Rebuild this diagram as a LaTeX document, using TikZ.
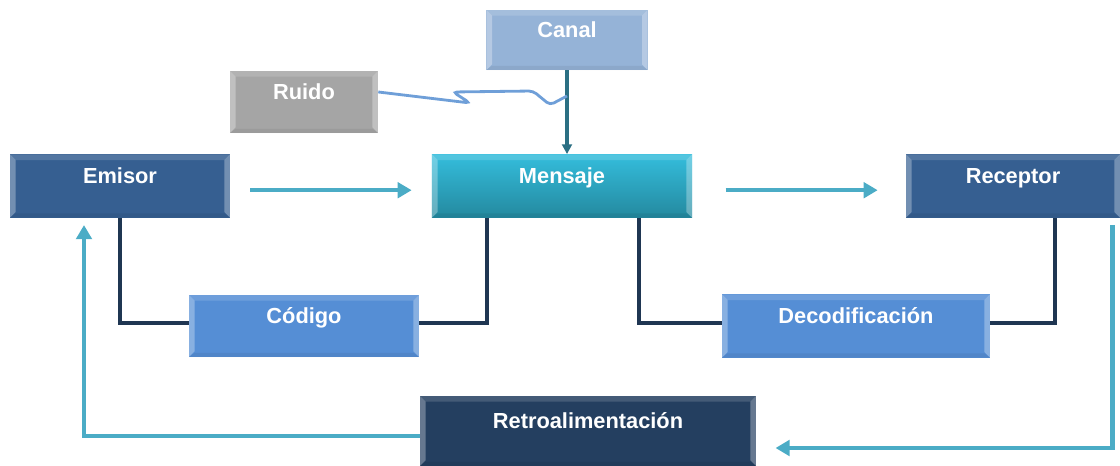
\documentclass[tikz,border=0pt]{standalone}
\usepackage{fontspec}
\setmainfont{Liberation Sans}
\usepackage{xcolor}
\usepackage{tikz}
\usetikzlibrary{arrows.meta, positioning, calc}

\definecolor{emisorblue}{HTML}{365F91}
\definecolor{retronavy}{HTML}{243F60}
\definecolor{codeblue}{HTML}{558ED5}
\definecolor{canalblue}{HTML}{95B3D7}
\definecolor{ruidogray}{HTML}{A5A5A5}
\definecolor{msgtop}{HTML}{34BDDC}
\definecolor{msgbottom}{HTML}{24899F}
\definecolor{flowteal}{HTML}{4BACC6}
\definecolor{linknavy}{HTML}{1F3652}
\definecolor{canalteal}{HTML}{2B6F83}
\definecolor{noiseblue}{HTML}{6F9FD8}

\begin{document}
\begin{tikzpicture}[x=0.025cm, y=0.025cm, >={Triangle[length=10pt,width=11pt]}]
        \tikzset{
            bevel/.style={path picture={
                \fill[white, opacity=0.3] (path picture bounding box.south west) -- (path picture bounding box.north west) -- ([shift={(4pt,-4pt)}]path picture bounding box.north west) -- ([shift={(4pt,4pt)}]path picture bounding box.south west) -- cycle;
                \fill[white, opacity=0.3] (path picture bounding box.south east) -- (path picture bounding box.north east) -- ([shift={(-4pt,-4pt)}]path picture bounding box.north east) -- ([shift={(-4pt,4pt)}]path picture bounding box.south east) -- cycle;
                \fill[white, opacity=0.15] (path picture bounding box.north west) -- (path picture bounding box.north east) -- ([shift={(-4pt,-4pt)}]path picture bounding box.north east) -- ([shift={(4pt,-4pt)}]path picture bounding box.north west) -- cycle;
                \fill[black, opacity=0.06] (path picture bounding box.south west) -- (path picture bounding box.south east) -- ([shift={(-4pt,3pt)}]path picture bounding box.south east) -- ([shift={(4pt,3pt)}]path picture bounding box.south west) -- cycle;
            }},
            boxnode/.style={rectangle, minimum height=1.58cm, inner sep=0pt, text=white, font=\fontsize{15.5}{18}\selectfont\bfseries, text height=12pt, text depth=16pt, bevel},
            flow/.style={draw=flowteal, line width=3.2pt},
            link/.style={draw=linknavy, line width=2.4pt},
            canallink/.style={draw=canalteal, line width=2.2pt},
            noise/.style={draw=noiseblue, line width=2pt, rounded corners=3pt}
        }
        \useasboundingbox (0,0) rectangle (1120,466);

        \node [boxnode, fill=canalblue, minimum width=4.03cm, minimum height=1.5cm] (canal) at (567,426) {Canal};
        \node [boxnode, fill=ruidogray, minimum width=3.7cm, minimum height=1.55cm] (ruido) at (304,364) {Ruido};
        \node [boxnode, fill=emisorblue, minimum width=5.5cm] (emisor) at (120,280) {Emisor};
        \node [boxnode, top color=msgtop, bottom color=msgbottom, minimum width=6.5cm] (mensaje) at (562,280) {Mensaje};
        \node [boxnode, fill=emisorblue, minimum width=5.35cm] (receptor) at (1013,280) {Receptor};
        \node [boxnode, fill=codeblue, minimum width=5.75cm, minimum height=1.55cm] (codigo) at (304,140) {Código};
        \node [boxnode, fill=codeblue, minimum width=6.7cm] (decod) at (856,140) {Decodificación};
        \node [boxnode, fill=retronavy, minimum width=8.4cm, minimum height=1.75cm] (retro) at (588,35) {Retroalimentación};

        \coordinate (noisejoin) at (canal.south |- 0,370);

        \draw [canallink, -{Triangle[length=7pt,width=7pt]}] (canal.south) -- (canal.south |- mensaje.north);
        \draw [noise] ([yshift=0.25cm]ruido.east) -- (470,363) -- (453,374) -- (533,375) -- (550,361) -- (noisejoin);

        \draw [flow, ->, shorten <=0.5cm, shorten >=0.5cm] ([yshift=-3pt]emisor.east) -- ([yshift=-3pt]mensaje.west);
        \draw [flow, ->, shorten <=0.83cm, shorten >=0.7cm] ([yshift=-3pt]mensaje.east) -- ([yshift=-3pt]receptor.west);

        \draw [link] (emisor.south) |- ([yshift=2pt]codigo.west);
        \draw [link] ($(mensaje.south)+(-75,0)$) |- ([yshift=2pt]codigo.east);
        \draw [link] ($(mensaje.south)+(77,0)$) |- ([yshift=2pt]decod.west);
        \draw [link] ($(receptor.south)+(42,0)$) |- ([yshift=2pt]decod.east);

        \draw [flow, ->, shorten >=0.48cm] ($(receptor.south east)+(-8,-7)$) |- ($(retro.east)+(0,-17)$);
        \draw [flow, ->, shorten >=0.18cm] ($(retro.west)+(0,-5)$) -| ($(emisor.south)+(-36,0)$);
    \end{tikzpicture}
\end{document}
